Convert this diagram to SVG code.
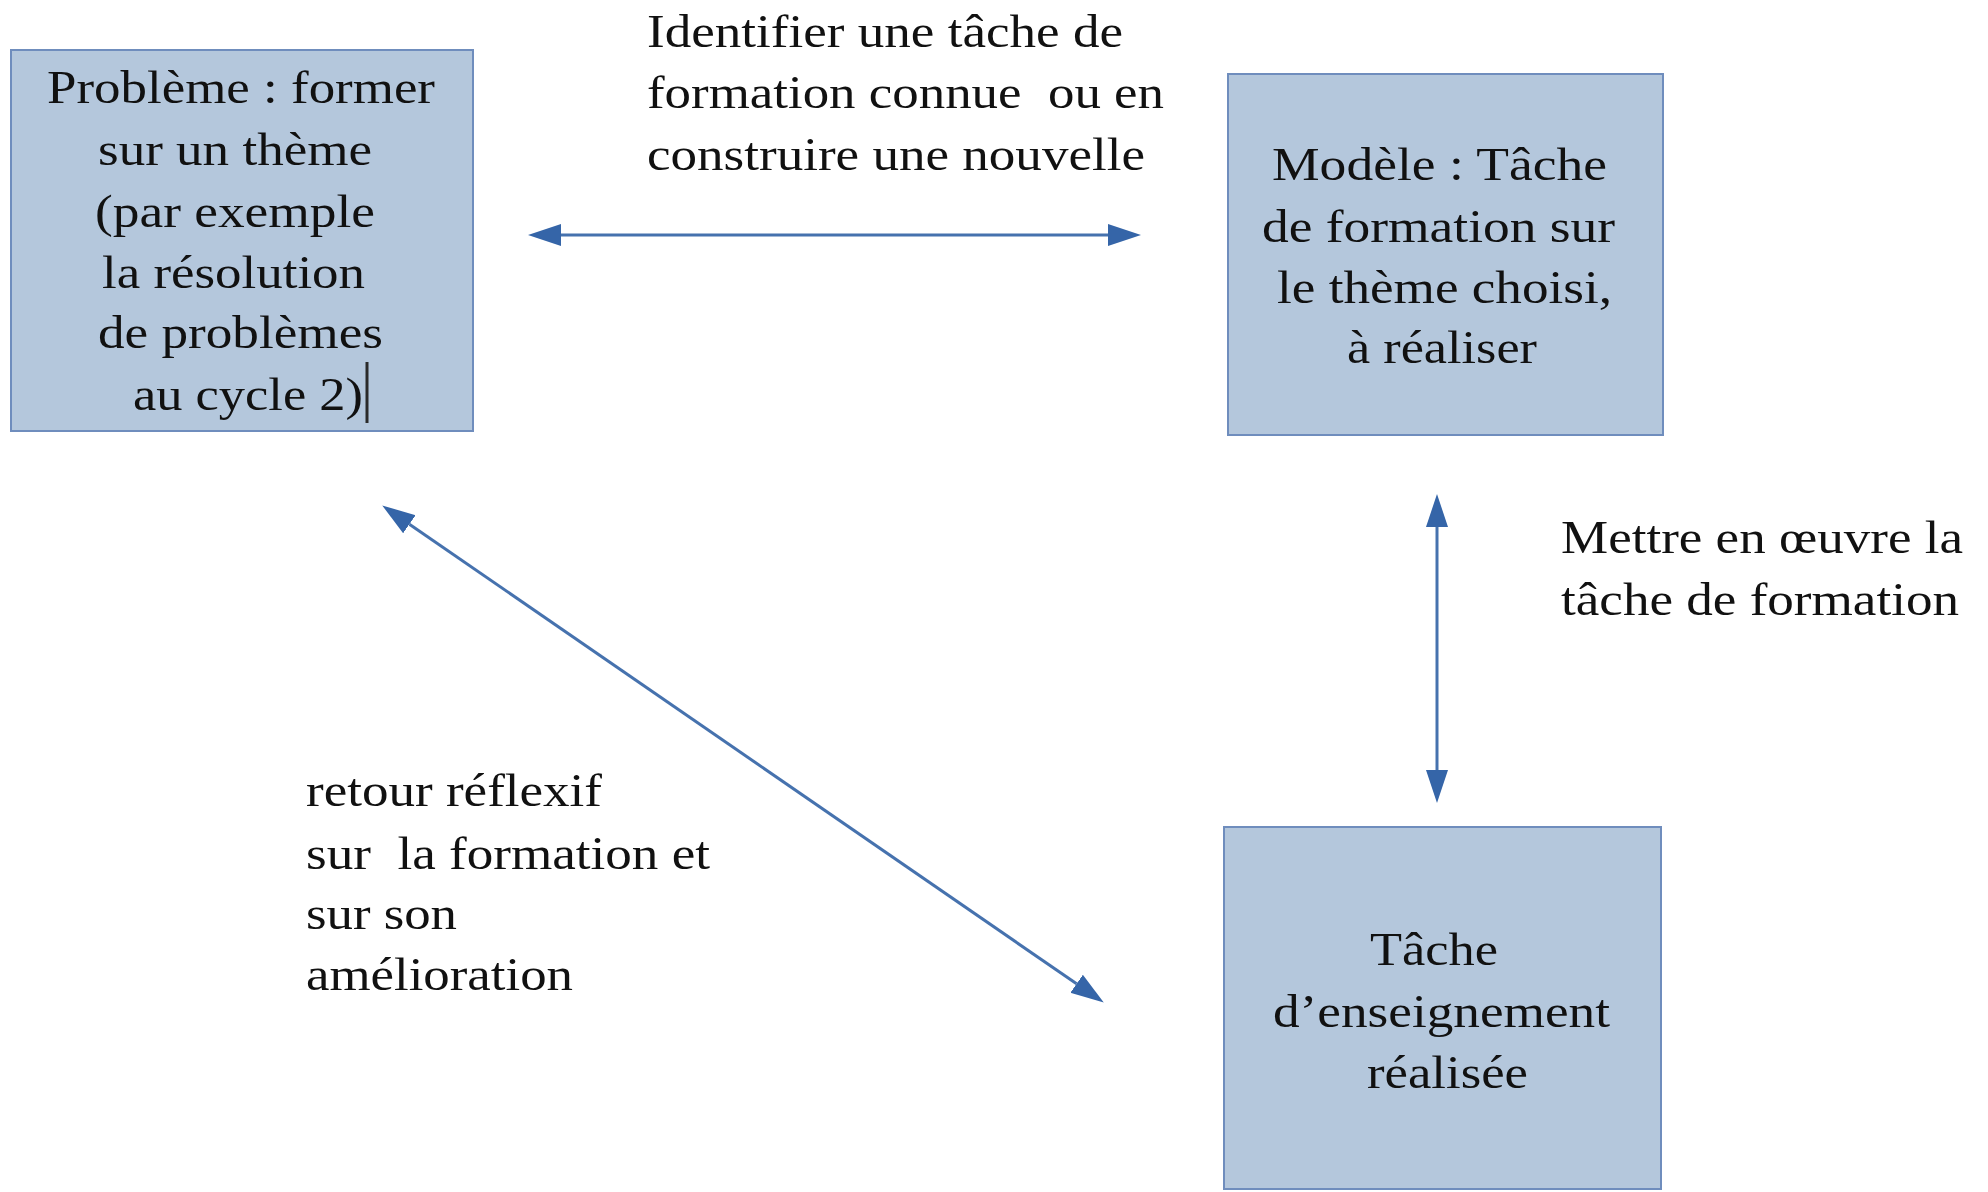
<svg xmlns="http://www.w3.org/2000/svg" width="1988" height="1192" viewBox="0 0 1988 1192">
<style>
.box{fill:#b4c7dc;stroke:#6f8dbd;stroke-width:2}
.t{font-size:47px;fill:#111;white-space:pre}
.c{fill:none;stroke:#4672ae;stroke-width:3}
</style>
<defs>
<marker id="ah" markerUnits="userSpaceOnUse" markerWidth="34" markerHeight="24" refX="0" refY="11" orient="auto-start-reverse" viewBox="0 0 34 22">
<path d="M0,0 L33,11 L0,22 Z" fill="#3565a8"/>
</marker>
</defs>
<rect width="1988" height="1192" fill="#fff"/>
<g id="connectors">
<line class="c" x1="561" y1="235" x2="1108" y2="235" marker-start="url(#ah)" marker-end="url(#ah)"/>
<line class="c" x1="1437" y1="527" x2="1437" y2="770" marker-start="url(#ah)" marker-end="url(#ah)"/>
<line class="c" x1="409.4" y1="524.2" x2="1076.6" y2="983.8" marker-start="url(#ah)" marker-end="url(#ah)"/>
</g>
<g font-family="Liberation Serif, Times New Roman, serif">
<g id="node-probleme">
<rect class="box" x="11" y="50" width="462" height="381"/>
<text class="t" x="47" y="103" textLength="388" lengthAdjust="spacingAndGlyphs">Problème : former</text>
<text class="t" x="98" y="165" textLength="274" lengthAdjust="spacingAndGlyphs">sur un thème</text>
<text class="t" x="95" y="227" textLength="280" lengthAdjust="spacingAndGlyphs">(par exemple</text>
<text class="t" x="102" y="288" textLength="263" lengthAdjust="spacingAndGlyphs">la résolution</text>
<text class="t" x="98" y="348" textLength="285" lengthAdjust="spacingAndGlyphs">de problèmes</text>
<text class="t" x="133" y="410" textLength="230" lengthAdjust="spacingAndGlyphs">au cycle 2)</text>
<line x1="367" y1="362" x2="367" y2="423" stroke="#2a2a2a" stroke-width="3"/>
</g>
<g id="node-modele">
<rect class="box" x="1228" y="74" width="435" height="361"/>
<text class="t" x="1272" y="180" textLength="335" lengthAdjust="spacingAndGlyphs">Modèle : Tâche</text>
<text class="t" x="1262" y="242" textLength="353" lengthAdjust="spacingAndGlyphs">de formation sur</text>
<text class="t" x="1277" y="303" textLength="335" lengthAdjust="spacingAndGlyphs">le thème choisi,</text>
<text class="t" x="1347" y="363" textLength="190" lengthAdjust="spacingAndGlyphs">à réaliser</text>
</g>
<g id="node-tache">
<rect class="box" x="1224" y="827" width="437" height="362"/>
<text class="t" x="1370" y="965" textLength="128" lengthAdjust="spacingAndGlyphs">Tâche</text>
<text class="t" x="1273" y="1027" textLength="337" lengthAdjust="spacingAndGlyphs">d’enseignement</text>
<text class="t" x="1367" y="1088" textLength="161" lengthAdjust="spacingAndGlyphs">réalisée</text>
</g>
<g id="label-identifier">
<text class="t" x="647" y="47" textLength="476" lengthAdjust="spacingAndGlyphs">Identifier une tâche de</text>
<text class="t" x="647" y="108" textLength="517" lengthAdjust="spacingAndGlyphs">formation connue  ou en</text>
<text class="t" x="647" y="170" textLength="498" lengthAdjust="spacingAndGlyphs">construire une nouvelle</text>
</g>
<g id="label-mettre">
<text class="t" x="1561" y="553" textLength="402" lengthAdjust="spacingAndGlyphs">Mettre en œuvre la</text>
<text class="t" x="1561" y="615" textLength="398" lengthAdjust="spacingAndGlyphs">tâche de formation</text>
</g>
<g id="label-retour">
<text class="t" x="306" y="806" textLength="296" lengthAdjust="spacingAndGlyphs">retour réflexif</text>
<text class="t" x="306" y="869" textLength="404" lengthAdjust="spacingAndGlyphs">sur  la formation et</text>
<text class="t" x="306" y="929" textLength="151" lengthAdjust="spacingAndGlyphs">sur son</text>
<text class="t" x="306" y="990" textLength="267" lengthAdjust="spacingAndGlyphs">amélioration</text>
</g>
</g>
</svg>
